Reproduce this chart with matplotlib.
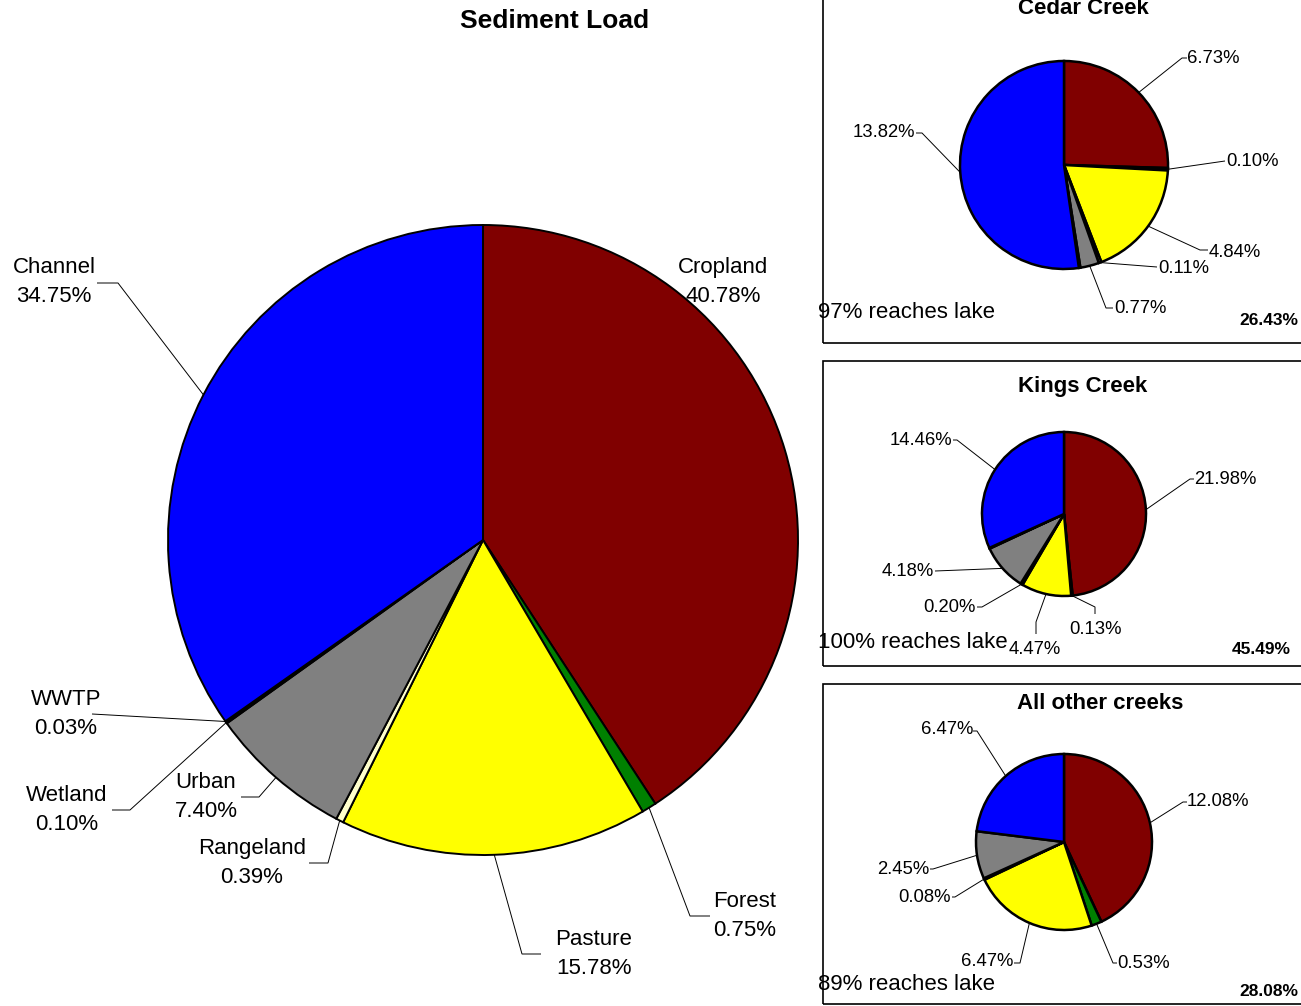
import matplotlib as mpl

mpl.use("Agg")
import matplotlib.pyplot as plt
from matplotlib.patches import Rectangle
import numpy as np

plt.rcParams["font.family"] = ["Liberation Sans", "DejaVu Sans"]

#
# --- canvas size in pixels (dpi 100), everything below is laid out in pixel coords
#
W, H = 1301, 1006

#
# --- sediment sources, in the order the wedges run clockwise from 12 o'clock
#
CATEGORIES = ["Cropland", "Forest", "Pasture", "Rangeland", "Urban", "Wetland", "WWTP", "Channel"]
COLORS = ["#800000", "#008000", "#FFFF00", "#FFFFCC", "#808080", "#CC99FF", "#FF99CC", "#0000FF"]

MAIN_VALUES = [40.78, 0.75, 15.78, 0.39, 7.40, 0.10, 0.03, 34.75]

#
# --- per-creek share of the total load (wetland + WWTP remainder is not labelled)
#
CREEK_NAMES = ["Cedar Creek", "Kings Creek", "All other creeks"]
CEDAR_VALUES = [6.73, 0.10, 4.84, 0.11, 0.77, 0.06, 0.0, 13.82]
KINGS_VALUES = [21.98, 0.13, 4.47, 0.20, 4.18, 0.07, 0.0, 14.46]
OTHER_VALUES = [12.08, 0.53, 6.47, 0.08, 2.45, 0.0, 0.0, 6.47]
REACH_PCT = [97, 100, 89]

#
# --- label layout: (slice index, leader bend points, text position, alignment)
#
MAIN_LAYOUT = [
    (0, [], (723, 282), "center"),
    (1, [(690, 916), (710, 916)], (745, 916), "center"),
    (2, [(522, 954), (541, 954)], (594, 954), "center"),
    (3, [(328, 863), (309, 863)], (252, 863), "center"),
    (4, [(259, 797), (241, 797)], (206, 797), "center"),
    (5, [(130, 810), (112, 810)], (67, 810), "center"),
    (6, [(92, 714)], (66, 714), "center"),
    (7, [(118, 283), (97, 283)], (54, 282), "center"),
]

CREEKS = [
    {
        "values": CEDAR_VALUES,
        "center": (1064, 165),
        "radius": 104,
        "box": (-20, 343),
        "title_y": 14,
        "title_x": 1083,
        "reach_y": 312,
        "total_y": 320,
        "total_x": 1298,
        "layout": [
            (0, [(1182, 58), (1187, 58)], (1187, 58), "left"),
            (1, [(1225, 161)], (1226, 161), "left"),
            (2, [(1200, 250), (1208, 250)], (1209, 252), "left"),
            (3, [(1157, 267)], (1158, 268), "left"),
            (4, [(1106, 308), (1113, 308)], (1114, 308), "left"),
            (7, [(922, 133), (916, 133)], (915, 132), "right"),
        ],
    },
    {
        "values": KINGS_VALUES,
        "center": (1064, 514),
        "radius": 82,
        "box": (361, 666),
        "title_y": 392,
        "title_x": 1083,
        "reach_y": 643,
        "total_y": 649,
        "total_x": 1291,
        "layout": [
            (0, [(1190, 479), (1194, 479)], (1194, 479), "left"),
            (1, [(1095, 607), (1095, 614)], (1095, 629), "center"),
            (2, [(1036, 622), (1036, 634)], (1035, 650), "center"),
            (3, [(982, 607), (977, 607)], (976, 607), "right"),
            (4, [(935, 571)], (934, 571), "right"),
            (7, [(957, 440), (953, 440)], (952, 440), "right"),
        ],
    },
    {
        "values": OTHER_VALUES,
        "center": (1064, 842),
        "radius": 88,
        "box": (684, 1004),
        "title_y": 709,
        "title_x": 1100,
        "reach_y": 984,
        "total_y": 992,
        "total_x": 1298,
        "layout": [
            (0, [(1183, 802), (1187, 802)], (1187, 802), "left"),
            (1, [(1113, 963), (1117, 963)], (1117, 963), "left"),
            (2, [(1020, 963), (1014, 963)], (1013, 962), "right"),
            (3, [(955, 897), (952, 897)], (951, 897), "right"),
            (4, [(933, 869), (930, 869)], (929, 869), "right"),
            (7, [(977, 731), (973, 731)], (973, 730), "right"),
        ],
    },
]


def draw_pie(ax, values, center, radius, lw):
    """Draw one pie (zero slices skipped) and return wedges keyed by category index."""
    keep = [i for i, v in enumerate(values) if v > 0]
    wedges, _ = ax.pie(
        [values[i] for i in keep],
        colors=[COLORS[i] for i in keep],
        center=(center[0], H - center[1]),
        radius=radius,
        startangle=90,
        counterclock=False,
        wedgeprops=dict(edgecolor="black", linewidth=lw, joinstyle="miter"),
    )
    return dict(zip(keep, wedges))


def add_label(ax, wedge, bends, pos, ha, text, size):
    """Leader line from the wedge's outer midpoint through the bend points, then the text."""
    if bends:
        mid = np.deg2rad((wedge.theta1 + wedge.theta2) / 2.0)
        cx, cy = wedge.center
        xs = [cx + wedge.r * np.cos(mid)] + [b[0] for b in bends]
        ys = [cy + wedge.r * np.sin(mid)] + [H - b[1] for b in bends]
        ax.plot(xs, ys, color="black", lw=0.7, solid_capstyle="butt", zorder=3)
    ax.text(pos[0], H - pos[1], text, ha=ha, va="center", fontsize=size,
            linespacing=1.45, color="black", zorder=4)


fig = plt.figure(figsize=(W / 100, H / 100), dpi=100)
ax = fig.add_axes([0, 0, 1, 1])

#
# --- main pie: total sediment load
#
main_wedges = draw_pie(ax, MAIN_VALUES, (483, 540), 315, 1.4)
for idx, bends, pos, ha in MAIN_LAYOUT:
    add_label(ax, main_wedges[idx], bends, pos, ha,
              f"{CATEGORIES[idx]}\n{MAIN_VALUES[idx]:.2f}%", 16)
ax.text(555, H - 21, "Sediment Load", ha="center", va="center",
        fontsize=19, fontweight="bold")

#
# --- one boxed pie per creek
#
for name, reach, creek in zip(CREEK_NAMES, REACH_PCT, CREEKS):
    top, bottom = creek["box"]
    ax.add_patch(Rectangle((823, H - bottom), 600, bottom - top, fill=False,
                           edgecolor="black", lw=1.2, zorder=1))
    wedges = draw_pie(ax, creek["values"], creek["center"], creek["radius"], 1.8)
    for idx, bends, pos, ha in creek["layout"]:
        add_label(ax, wedges[idx], bends, pos, ha, f"{creek['values'][idx]:.2f}%", 13.3)
    ax.text(creek["title_x"], H - creek["title_y"], name, ha="center",
            va="baseline", fontsize=16, fontweight="bold")
    ax.text(818, H - creek["reach_y"], f"{reach}% reaches lake", ha="left",
            va="center", fontsize=16, zorder=4)
    ax.text(creek["total_x"], H - creek["total_y"], f"{sum(creek['values']):.2f}%",
            ha="right", va="center", fontsize=12.5, fontweight="bold")

ax.set_xlim(0, W)
ax.set_ylim(0, H)
ax.set_aspect("auto")
ax.axis("off")

fig.savefig("out.png", dpi=100, facecolor="white")
